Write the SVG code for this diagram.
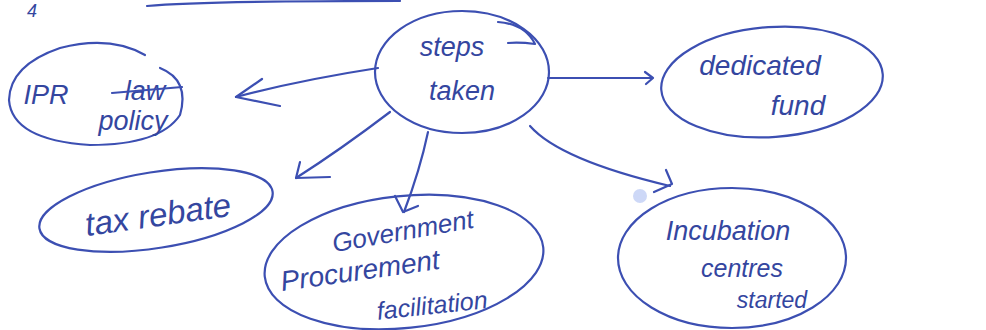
<svg xmlns="http://www.w3.org/2000/svg" width="986" height="330" viewBox="0 0 986 330">
<style>
.ink{fill:none;stroke:#3c4fb2;stroke-width:2.2;stroke-linecap:round;stroke-linejoin:round}
.t{font-family:"Liberation Sans",Arial,sans-serif;font-style:italic;fill:#34469f;text-anchor:middle}
</style>
<rect width="986" height="330" fill="#ffffff"/>
<g id="top-marks">
<text class="t" x="32" y="17" font-size="18">4</text>
<path class="ink" d="M147 6 Q 200 1 400 1"/>
</g>
<g id="connectors">
<path class="ink" d="M378 68 Q 300 80 236 97"/>
<path class="ink" d="M262 79 L 236 97 L 280 106"/>
<path class="ink" d="M548 78 L 652 78"/>
<path class="ink" d="M645 72 L 653 78 L 646 84"/>
<path class="ink" d="M390 112 Q 340 150 296 178"/>
<path class="ink" d="M300 162 L 296 178 L 330 177"/>
<path class="ink" d="M428 132 Q 420 170 404 212"/>
<path class="ink" d="M395 196 L 403 212 L 418 206"/>
<path class="ink" d="M530 126 Q 560 160 670 186"/>
<path class="ink" d="M666 170 L 672 184 L 654 192"/>
<circle cx="640" cy="196" r="7" fill="#6f8fe8" opacity="0.35"/>
</g>
<g id="steps-taken">
<ellipse class="ink" cx="462" cy="72" rx="87" ry="61"/>
<path class="ink" d="M498 22 Q 525 24 535 44 Q 520 42 508 43"/>
<text class="t" x="452" y="56" font-size="27">steps</text>
<text class="t" x="462" y="100" font-size="27">taken</text>
</g>
<g id="ipr-policy">
<path class="ink" d="M145 55 Q 110 35 60 48 Q 10 65 9 100 Q 12 140 90 145 Q 160 145 180 115 Q 190 80 160 68"/>
<text class="t" x="46" y="104" font-size="27">IPR</text>
<text class="t" x="145" y="100" font-size="27">law</text>
<path class="ink" d="M112 93 L 182 87"/>
<text class="t" x="133" y="130" font-size="27">policy</text>
</g>
<g id="dedicated-fund">
<ellipse class="ink" cx="772" cy="82" rx="111" ry="55" transform="rotate(-4 772 82)"/>
<text class="t" x="760" y="75" font-size="28">dedicated</text>
<text class="t" x="798" y="115" font-size="28">fund</text>
</g>
<g id="tax-rebate">
<ellipse class="ink" cx="156" cy="210" rx="118" ry="38" transform="rotate(-9 156 210)"/>
<text class="t" x="158" y="226" font-size="33" transform="rotate(-8 158 215)">tax rebate</text>
</g>
<g id="government-procurement">
<ellipse class="ink" cx="404" cy="262" rx="140" ry="66" transform="rotate(-6 404 262)"/>
<text class="t" x="403" y="240" font-size="26" transform="rotate(-10 403 232)">Government</text>
<text class="t" x="360" y="280" font-size="28" transform="rotate(-8 360 270)">Procurement</text>
<text class="t" x="432" y="314" font-size="25" transform="rotate(-6 432 305)">facilitation</text>
</g>
<g id="incubation-centres">
<ellipse class="ink" cx="732" cy="258" rx="114" ry="70"/>
<text class="t" x="728" y="240" font-size="27">Incubation</text>
<text class="t" x="742" y="277" font-size="25">centres</text>
<text class="t" x="772" y="308" font-size="23">started</text>
</g>
</svg>
